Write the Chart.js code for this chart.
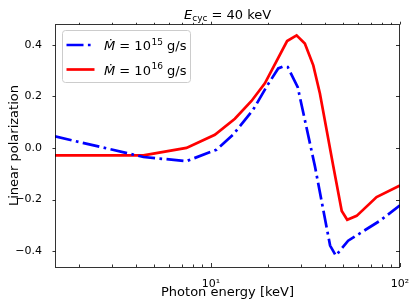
<!DOCTYPE html>
<html><head><meta charset="utf-8">
<script src="https://cdn.jsdelivr.net/npm/chart.js@4.4.0/dist/chart.umd.min.js"></script>
<style>html,body{margin:0;padding:0;background:#fff;} #wrap{width:415px;height:303px;}</style>
</head><body><div id="wrap"><canvas id="c" width="415" height="303"></canvas></div>
<script>
// ---- data ----
const energyLow = [1.5, 4.4, 7.43, 10.7, 13.1, 16.7, 19.7, 22.7, 24.0, 25.5, 28.8, 35.5, 42.7, 45.8, 53.2, 78.3, 100];
const polLow    = [0.045, -0.035, -0.051, -0.007, 0.051, 0.147, 0.237, 0.308, 0.315, 0.313, 0.235, -0.071, -0.378, -0.417, -0.359, -0.282, -0.222];
const energyHigh = [1.5, 4.4, 7.43, 10.5, 13.4, 16.4, 19.3, 25.3, 28.4, 31.4, 34.8, 37.7, 44.4, 49.2, 52.6, 59, 75.2, 100];
const polHigh    = [-0.029, -0.029, 0.0, 0.051, 0.113, 0.182, 0.25, 0.414, 0.436, 0.404, 0.320, 0.212, -0.071, -0.244, -0.278, -0.263, -0.19, -0.145];
const xMajorTicks = [10, 100];
const xTickLabels = ['10\u00B9', '10\u00B2'];
const xMinorTicks = [2,3,4,5,6,7,8,9,20,30,40,50,60,70,80,90];
const yTicks = [-0.4, -0.2, 0, 0.2, 0.4];
const yTickLabels = ['\u22120.4', '\u22120.2', '0.0', '0.2', '0.4'];
const seriesExponents = ['15', '16'];
const xLabel = 'Photon energy [keV]';
const yLabel = 'Linear polarization';

const FONT = '"DejaVu Sans", sans-serif';
const BLUE = '#0000ff', RED = '#ff0000';
const DASHDOT = [17, 4.4, 2.7, 4.4];
const LW = 2.7;

function toPts(xs, ys){ return xs.map((x,i)=>({x:x, y:ys[i]})); }

const decor = {
  id: 'decor',
  afterDraw(chart){
    const ctx = chart.ctx, a = chart.chartArea;
    const xs = chart.scales.x, ys = chart.scales.y;
    ctx.save();
    // spines
    ctx.strokeStyle = 'rgba(0,0,0,0.8)';
    ctx.lineWidth = 1;
    ctx.setLineDash([]);
    ctx.strokeRect(Math.round(a.left)+0.5, Math.round(a.top)+0.5, Math.round(a.right-a.left)-1, Math.round(a.bottom-a.top));
    // ticks: bottom inward, top outward, left outward, right inward
    ctx.beginPath();
    const tick = (v, len) => {
      const p = Math.round(xs.getPixelForValue(v))+0.5;
      ctx.moveTo(p, a.bottom); ctx.lineTo(p, a.bottom-len);
      ctx.moveTo(p, a.top+0.5); ctx.lineTo(p, a.top+0.5-len*0.7);
    };
    xMajorTicks.forEach(v=>tick(v,4));
    xMinorTicks.forEach(v=>tick(v,2.5));
    yTicks.forEach(v=>{
      const p = Math.round(ys.getPixelForValue(v))+0.5;
      ctx.moveTo(a.left+0.5, p); ctx.lineTo(a.left+0.5-3, p);
      ctx.moveTo(a.right, p); ctx.lineTo(a.right-4, p);
    });
    ctx.stroke();

    ctx.fillStyle = '#000';
    ctx.textBaseline = 'alphabetic';
    // title: E_cyc = 40 keV
    let x = 184;
    const base = 18.5;
    ctx.font = 'italic 13px ' + FONT; ctx.textAlign='left';
    ctx.fillText('E', x, base); x += ctx.measureText('E').width;
    ctx.font = '9px ' + FONT;
    ctx.fillText('cyc', x, base+2.6); x += ctx.measureText('cyc').width;
    ctx.font = '13px ' + FONT;
    ctx.fillText(' = 40 keV', x, base);

    // axis labels
    ctx.font = '13px ' + FONT;
    ctx.textAlign = 'center';
    ctx.fillText(xLabel, (a.left+a.right)/2, 296);
    ctx.save();
    ctx.translate(18, (a.top+a.bottom)/2);
    ctx.rotate(-Math.PI/2);
    ctx.fillText(yLabel, 0, 0);
    ctx.restore();

    // legend
    const bx=62.5, by=30.5, bw=128, bh=52, r=3;
    ctx.beginPath();
    ctx.moveTo(bx+r,by); ctx.lineTo(bx+bw-r,by); ctx.arcTo(bx+bw,by,bx+bw,by+r,r);
    ctx.lineTo(bx+bw,by+bh-r); ctx.arcTo(bx+bw,by+bh,bx+bw-r,by+bh,r);
    ctx.lineTo(bx+r,by+bh); ctx.arcTo(bx,by+bh,bx,by+bh-r,r);
    ctx.lineTo(bx,by+r); ctx.arcTo(bx,by,bx+r,by,r);
    ctx.closePath();
    ctx.fillStyle = 'rgba(255,255,255,0.8)'; ctx.fill();
    ctx.strokeStyle = '#cccccc'; ctx.lineWidth = 1; ctx.stroke();

    const rows = [{c:BLUE, dash:DASHDOT, y:45, exp:seriesExponents[0]}, {c:RED, dash:[], y:69.5, exp:seriesExponents[1]}];
    rows.forEach(rw=>{
      ctx.beginPath();
      ctx.strokeStyle = rw.c; ctx.lineWidth = LW; ctx.lineCap='butt';
      ctx.setLineDash(rw.dash);
      ctx.moveTo(66.5, rw.y); ctx.lineTo(94.5, rw.y); ctx.stroke();
      ctx.setLineDash([]);
      ctx.fillStyle = '#000'; ctx.textAlign='left';
      let tx = 104; const tb = rw.y + 5;
      ctx.font = 'italic 13px ' + FONT;
      ctx.fillText('\u1E40', tx, tb); tx += ctx.measureText('\u1E40').width;
      ctx.font = '13px ' + FONT;
      ctx.fillText(' = 10', tx, tb); tx += ctx.measureText(' = 10').width;
      ctx.font = '9px ' + FONT;
      ctx.fillText(rw.exp, tx+0.5, tb-5.5); tx += ctx.measureText(rw.exp).width+0.5;
      ctx.font = '13px ' + FONT;
      ctx.fillText(' g/s', tx, tb);
    });
    ctx.restore();
  }
};

new Chart(document.getElementById('c'), {
  type: 'line',
  data: {
    datasets: [
      { label: 'Mdot=1e15', data: toPts(energyLow, polLow), borderColor: BLUE, borderWidth: LW,
        borderDash: DASHDOT, pointRadius: 0, tension: 0, fill: false, borderCapStyle: 'butt' },
      { label: 'Mdot=1e16', data: toPts(energyHigh, polHigh), borderColor: RED, borderWidth: LW,
        pointRadius: 0, tension: 0, fill: false }
    ]
  },
  options: {
    responsive: false, animation: false, devicePixelRatio: 1,
    layout: { padding: { left: 0, top: 24, right: 15, bottom: 0 } },
    plugins: { legend: { display: false }, title: { display: false }, tooltip: { enabled: false } },
    scales: {
      x: {
        type: 'logarithmic', min: 1.5, max: 100,
        grid: { display: false }, border: { display: false },
        afterBuildTicks: s => { s.ticks = xMajorTicks.map(v=>({value:v})); },
        afterFit: s => { s.height = 36; },
        ticks: { padding: 3, color: '#000', font: { family: FONT, size: 11 }, maxRotation: 0, autoSkip: false,
          callback: (v) => { const i = xMajorTicks.indexOf(v); return i >= 0 ? xTickLabels[i] : ''; } }
      },
      y: {
        min: -0.461, max: 0.48,
        grid: { display: false }, border: { display: false },
        afterBuildTicks: s => { s.ticks = yTicks.map(v=>({value:v})); },
        afterFit: s => { s.width = 55; },
        ticks: { padding: 5, color: '#000', font: { family: FONT, size: 11 }, autoSkip: false,
          callback: (v) => { const i = yTicks.findIndex(t=>Math.abs(t-v)<1e-9); return i >= 0 ? yTickLabels[i] : ''; } }
      }
    }
  },
  plugins: [decor]
});
</script>
</body></html>
